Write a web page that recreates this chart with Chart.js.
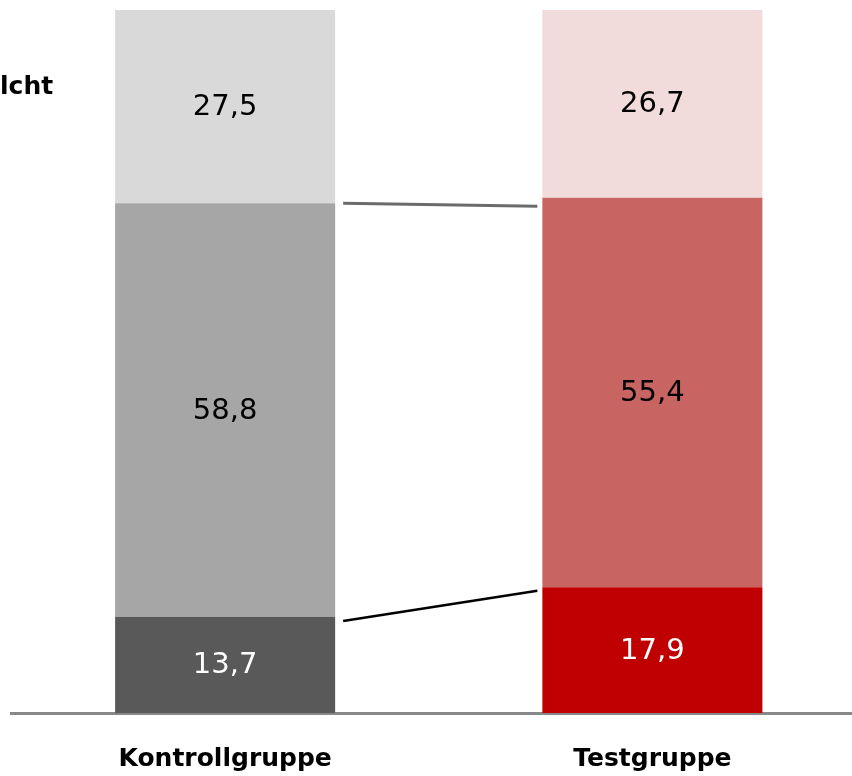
<!DOCTYPE html>
<html>
<head>
<meta charset="utf-8">
<script src="https://cdn.jsdelivr.net/npm/chart.js@4"></script>
<style>
  html, body { margin: 0; padding: 0; background: #fff; overflow: hidden; }
  canvas { display: block; }
</style>
</head>
<body>
<canvas id="chart" width="866" height="776"></canvas>
<script>
// Gruppen und Anteile (%)
const groups = ['Kontrollgruppe', 'Testgruppe'];
const lowShare = [13.7, 17.9];
const midShare = [58.8, 55.4];
const topShare = [27.5, 26.7];
// Verbindungslinien: Höhe am linken und rechten Balken (%)
const lineFrom = [72.5, 13.1];
const lineTo = [72.1, 17.4];
const sideLabel = 'lcht';

// Segment labels in the middle of each bar piece
const segmentLabels = {
    id: 'segmentLabels',
    afterDatasetsDraw(chart) {
        const ctx = chart.ctx;
        ctx.save();
        ctx.font = '29px "DejaVu Sans"';
        ctx.textAlign = 'center';
        ctx.textBaseline = 'middle';
        chart.data.datasets.forEach((ds, i) => {
            chart.getDatasetMeta(i).data.forEach((bar, j) => {
                const y = (bar.y + bar.base) / 2 + 1;
                ctx.fillStyle = i === 0 ? '#ffffff' : '#000000';
                ctx.fillText(ds.data[j].toFixed(1).replace('.', ','), bar.x, y);
            });
        });
        ctx.restore();
    }
};

// Connecting lines between the two bars + cut-off legend text
const connectors = {
    id: 'connectors',
    afterDatasetsDraw(chart) {
        const ctx = chart.ctx;
        const y = chart.scales.y;
        const bars = chart.getDatasetMeta(0).data;
        const x1 = bars[0].x + bars[0].width / 2 + 8;
        const x2 = bars[1].x - bars[1].width / 2 - 5;
        const colors = ['#6b6b6b', '#000000'];
        ctx.save();
        lineFrom.forEach((v, i) => {
            ctx.beginPath();
            ctx.strokeStyle = colors[i];
            ctx.lineWidth = i === 0 ? 3 : 2.5;
            ctx.moveTo(x1, y.getPixelForValue(v));
            ctx.lineTo(x2, y.getPixelForValue(lineTo[i]));
            ctx.stroke();
        });
        ctx.font = 'bold 25px "DejaVu Sans"';
        ctx.fillStyle = '#000';
        ctx.textAlign = 'left';
        ctx.textBaseline = 'alphabetic';
        ctx.fillText(sideLabel, 0, 94);
        ctx.restore();
    }
};

new Chart(document.getElementById('chart'), {
    type: 'bar',
    data: {
        labels: groups,
        datasets: [
            { label: 'low', data: lowShare, backgroundColor: ['#595959', '#c00000'] },
            { label: 'mid', data: midShare, backgroundColor: ['#a6a6a6', '#c86462'] },
            { label: 'top', data: topShare, backgroundColor: ['#d9d9d9', '#f2dcdb'] }
        ]
    },
    options: {
        responsive: false,
        animation: false,
        barPercentage: 0.515,
        categoryPercentage: 1,
        layout: { padding: { left: 11.5, right: 0, top: 10, bottom: 0 } },
        plugins: {
            legend: { display: false },
            tooltip: { enabled: false }
        },
        scales: {
            x: {
                stacked: true,
                grid: { display: false, drawTicks: false },
                border: { display: true, color: '#888888', width: 3 },
                ticks: {
                    padding: 31,
                    color: '#000',
                    font: { family: 'DejaVu Sans', size: 25, weight: 'bold' }
                },
                afterFit(scale) { scale.height = 63; }
            },
            y: {
                stacked: true,
                display: false,
                min: 0,
                max: 100
            }
        }
    },
    plugins: [segmentLabels, connectors]
});
</script>
</body>
</html>
